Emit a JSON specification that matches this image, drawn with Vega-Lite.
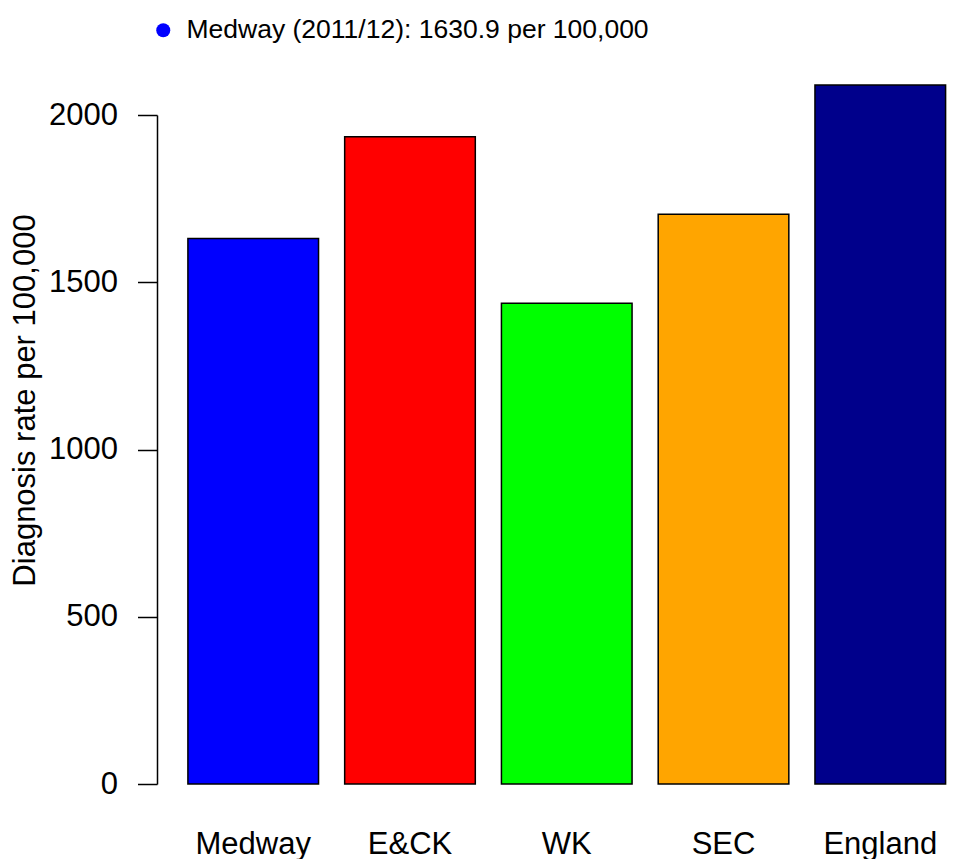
{
  "$schema": "https://vega.github.io/schema/vega-lite/v6.json",
  "autosize": "none",
  "width": 816,
  "height": 669,
  "padding": {"left": 157, "top": 115, "right": 0, "bottom": 75},
  "background": "white",
  "config": {
    "view": {"stroke": null},
    "font": "Liberation Sans"
  },
  "datasets": {
    "rates": [
      {"region": "Medway", "rate": 1630.9},
      {"region": "E&CK", "rate": 1935},
      {"region": "WK", "rate": 1437},
      {"region": "SEC", "rate": 1703},
      {"region": "England", "rate": 2090}
    ],
    "note": [
      {"label": "Medway (2011/12): 1630.9 per 100,000"}
    ]
  },
  "resolve": {"scale": {"fill": "independent", "color": "independent"}},
  "layer": [
    {
      "data": {"name": "rates"},
      "mark": {"type": "bar", "stroke": "black", "strokeWidth": 1.5, "clip": false},
      "encoding": {
        "x": {
          "field": "region",
          "type": "nominal",
          "sort": null,
          "scale": {"paddingInner": 0.1667, "paddingOuter": 0.186, "align": 0.53},
          "axis": {
            "title": null,
            "domain": false,
            "ticks": false,
            "tickSize": 0,
            "labelAngle": 0,
            "labelFontSize": 31,
            "labelColor": "black",
            "labelBaseline": "alphabetic",
            "labelPadding": 69,
            "labelFont": "Liberation Sans"
          }
        },
        "y": {
          "field": "rate",
          "type": "quantitative",
          "scale": {"domain": [0, 2000], "nice": false, "zero": true},
          "axis": {
            "title": "Diagnosis rate per 100,000",
            "values": [0, 500, 1000, 1500, 2000],
            "format": "d",
            "grid": false,
            "domainColor": "black",
            "domainWidth": 1.5,
            "tickColor": "black",
            "tickWidth": 1.5,
            "tickSize": 19.5,
            "labelFontSize": 31,
            "labelColor": "black",
            "labelPadding": 20,
            "labelFont": "Liberation Sans",
            "titleFont": "Liberation Sans",
            "titleFontSize": 31,
            "titleFontWeight": "normal",
            "titleColor": "black",
            "titleAngle": 270,
            "titleAlign": "center",
            "titleBaseline": "alphabetic",
            "titleX": -123,
            "titleY": 285
          }
        },
        "color": {
          "field": "region",
          "type": "nominal",
          "scale": {
            "domain": ["Medway", "E&CK", "WK", "SEC", "England"],
            "range": ["#0000FF", "#FF0000", "#00FF00", "#FFA500", "#00008B"]
          },
          "legend": null
        }
      }
    },
    {
      "data": {"name": "note"},
      "mark": {"type": "circle", "opacity": 0},
      "encoding": {
        "fill": {
          "field": "label",
          "type": "nominal",
          "scale": {"range": ["#0000FF"]},
          "legend": {
            "title": null,
            "orient": "none",
            "legendX": -7,
            "legendY": -98,
            "padding": 0,
            "symbolType": "circle",
            "symbolSize": 196,
            "symbolOpacity": 1,
            "symbolFillColor": "#0000FF",
            "symbolStrokeWidth": 0,
            "labelFontSize": 26.5,
            "labelFont": "Liberation Sans",
            "labelColor": "black",
            "labelLimit": 800,
            "labelOffset": 10
          }
        }
      }
    }
  ]
}
